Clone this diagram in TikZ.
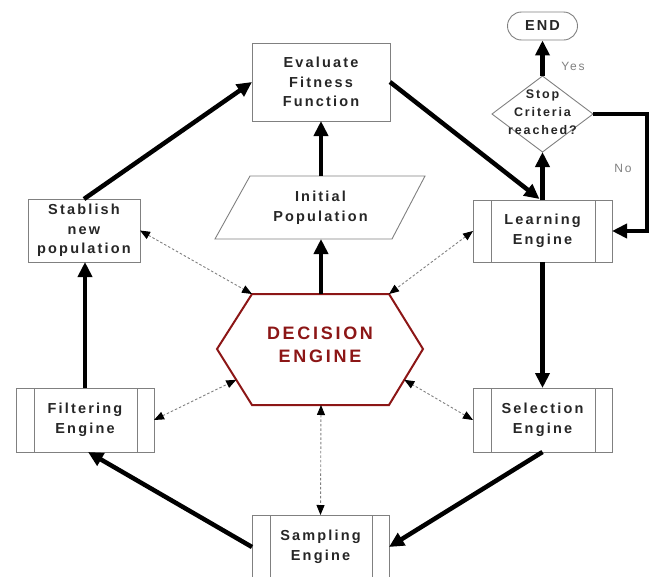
\documentclass[tikz,border=0pt]{standalone}
\usepackage{fontspec}
\setmainfont{Liberation Sans}
\newfontfamily\lblfont[LetterSpace=15]{Liberation Sans}
\newfontfamily\decfont[LetterSpace=15]{Liberation Sans}
\usetikzlibrary{arrows.meta,calc}
\definecolor{decred}{RGB}{140,22,22}
\definecolor{boxgray}{RGB}{128,128,128}
\tikzset{
  lbl/.style={font=\lblfont\bfseries\fontsize{14.5}{19.5}\selectfont, align=center, text=black!85},
  plainbox/.style={draw=boxgray, line width=0.9pt, inner sep=0pt, outer sep=0pt, lbl},
  procbox/.style={plainbox, path picture={
      \draw[boxgray, line width=0.9pt] ([xshift=18pt]path picture bounding box.north west) -- ([xshift=18pt]path picture bounding box.south west);
      \draw[boxgray, line width=0.9pt] ([xshift=-17pt]path picture bounding box.north east) -- ([xshift=-17pt]path picture bounding box.south east);}},
  flow/.style={line width=4.5pt, -{Triangle[length=15pt,width=14pt]}},
  link/.style={draw=gray, line width=0.9pt, dash pattern=on 2.5pt off 2pt,
    {Triangle[length=10pt,width=8pt,color=black]}-{Triangle[length=10pt,width=8pt,color=black]}},
  side/.style={font=\lblfont\fontsize{12}{14}\selectfont, text=gray}
}
\begin{document}
\begin{tikzpicture}[x=1pt,y=-1pt]
\useasboundingbox (0,0) rectangle (651,576);
% nodes
\node[plainbox, minimum width=138pt, minimum height=78pt] (eval) at (321,82) {Evaluate\\Fitness\\Function};
\node[plainbox, minimum width=112pt, minimum height=63pt] (stab) at (84,230.5) {Stablish\\new\\population};
\node[procbox, minimum width=139pt, minimum height=62pt] (learn) at (542.5,231) {Learning\\Engine};
\node[procbox, minimum width=139pt, minimum height=64pt] (sel) at (542.5,420) {Selection\\Engine};
\node[procbox, minimum width=138pt, minimum height=64pt] (filt) at (85,420) {Filtering\\Engine};
\node[procbox, minimum width=137pt, minimum height=64pt] (samp) at (320.5,547) {Sampling\\Engine};
% initial population parallelogram
\coordinate (ipTL) at (250,176);
\coordinate (ipTR) at (425,176);
\coordinate (ipBR) at (392,239);
\coordinate (ipBL) at (215,239);
\draw[boxgray, line width=0.9pt] (ipTL) -- (ipTR) -- (ipBR) -- (ipBL) -- cycle;
\node[lbl] (init) at (320.5,207.5) {Initial\\Population};
\coordinate (ipTop) at (321,176);
\coordinate (ipBot) at (321,239);
% END
\node[draw=boxgray, line width=0.9pt, rounded corners=14pt, minimum width=70pt, minimum height=28pt, inner sep=0pt, lbl] (endn) at (542.5,26) {END};
% diamond
\coordinate (dmT) at (542.5,76);
\coordinate (dmL) at (492,114);
\coordinate (dmR) at (593,114);
\coordinate (dmB) at (542.5,152);
\draw[boxgray, line width=0.9pt] (dmT) -- (dmR) -- (dmB) -- (dmL) -- cycle;
\node[font=\lblfont\bfseries\fontsize{12.5}{18}\selectfont, align=center, text=black!85] (stop) at (542.5,112) {Stop\\Criteria\\reached?};
% decision hexagon
\coordinate (hL) at (217,349);
\coordinate (hTL) at (252,294);
\coordinate (hTR) at (389,294);
\coordinate (hR) at (423,349);
\coordinate (hBR) at (389,405);
\coordinate (hBL) at (252,405);
\draw[decred, line width=2pt] (hL) -- (hTL) -- (hTR) -- (hR) -- (hBR) -- (hBL) -- cycle;
\node[font=\decfont\bfseries\fontsize{18}{23}\selectfont, text=decred, align=center] (dec) at (320,345) {DECISION\\ENGINE};
\coordinate (hTop) at (321,294);
\coordinate (hBot) at (321,405);
\coordinate (hLL) at ($(hL)!0.55!(hBL)$);
\coordinate (hLR) at ($(hR)!0.55!(hBR)$);
% thick flow arrows
\draw[flow] (hTop) -- (ipBot);
\draw[flow] (ipTop) -- (eval.south);
\draw[flow] (eval.east) -- ($(learn.north)+(-3,-1)$);
\draw[flow] (learn.north) -- (dmB);
\draw[flow] (dmT) -- (endn.south);
\coordinate (noC1) at (647,114);
\coordinate (noC2) at (647,231);
\draw[flow] (dmR) -- (noC1) -- (noC2) -- (learn.east);
\draw[flow] (learn.south) -- (sel.north);
\draw[flow] (sel.south) -- (samp.east);
\draw[flow] (samp.west) -- ($(filt.south)+(3,0)$);
\draw[flow] (filt.north) -- (filt.north |- stab.south);
\draw[flow] (stab.north) -- (eval.west);
% dashed links
\draw[link] (stab.east) -- (hTL);
\draw[link] (learn.west) -- (hTR);
\draw[link] (filt.east) -- (hLL);
\draw[link] (sel.west) -- (hLR);
\draw[link] (hBot) -- (samp.north);
% labels
\node[side] (yes) at (573,66) {Yes};
\node[side] (no) at (623,168) {No};
\end{tikzpicture}
\end{document}
